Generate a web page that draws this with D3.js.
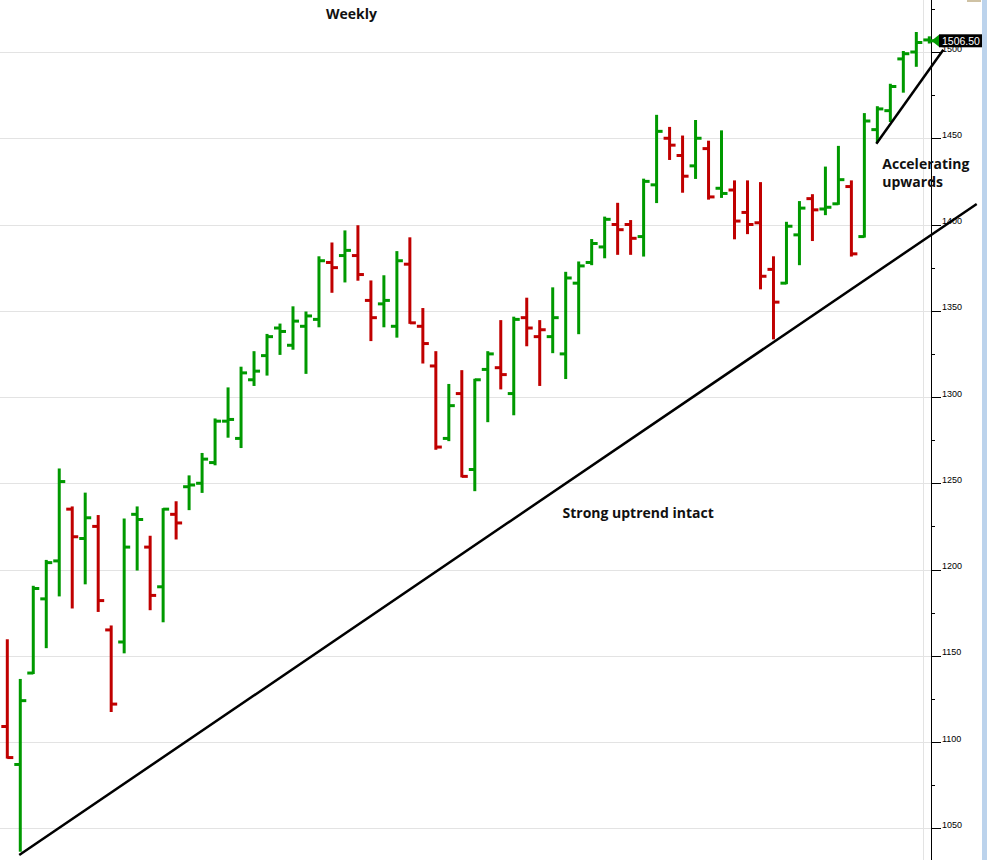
<!DOCTYPE html>
<meta charset="utf-8">
<style>
  body { margin: 0; background: #fff; }
  .note { font-family: 'Open Sans', 'Lato', sans-serif; font-weight: bold; font-size: 14px; fill: #111; }
  .axisLabel { font-family: 'Liberation Sans', Arial, sans-serif; font-size: 9px; fill: #000; }
</style>
<body>
<script src="https://d3js.org/d3.v7.min.js"></script>
<script>
  // weekly OHLC, oldest first
  const opens  = [1109,1087,1140,1183,1205,1235,1218,1225,1165,1158,1232,1213,1190,1232,1248,1250,1262,1286,1276,1310,
                  1324,1340,1330,1341,1345,1378,1382,1382,1356,1354,1341,1377,1341,1318,1276,1302,1258,1316,1317,1302,
                  1346,1335,1335,1325,1366,1378,1387,1400,1400,1393,1423,1450,1440,1434,1444,1421,1420,1407,1401,1374,
                  1366,1394,1415,1409,1412,1422,1393,1455,1466,1496,1500,1507];
  const highs  = [1159,1136,1190,1205,1258,1236,1244,1231,1167,1229,1236,1219,1235,1239,1254,1267,1287,1305,1317,1326,
                  1336,1342,1352,1349,1381,1389,1396,1399,1367,1370,1384,1392,1351,1326,1307,1315,1310,1326,1344,1346,
                  1357,1344,1363,1372,1378,1391,1404,1412,1402,1426,1463,1456,1451,1460,1448,1454,1425,1425,1424,1381,
                  1401,1413,1417,1433,1445,1425,1464,1468,1481,1500,1511,1508.5];
  const lows   = [1091,1037,1140,1155,1185,1178,1192,1176,1118,1152,1200,1177,1170,1218,1235,1245,1261,1277,1271,1307,
                  1313,1325,1328,1314,1341,1361,1367,1368,1333,1341,1335,1343,1320,1270,1275,1254,1246,1286,1305,1290,
                  1330,1307,1326,1311,1337,1377,1381,1383,1383,1382,1413,1438,1419,1427,1415,1416,1392,1395,1363,1334,
                  1366,1377,1391,1406,1412,1382,1393,1448,1460,1477,1492,1505.5];
  const closes = [1091,1124,1189,1204,1251,1219,1230,1182,1122,1213,1229,1185,1235,1227,1249,1264,1286,1287,1314,1315,
                  1335,1338,1344,1347,1379,1375,1385,1371,1346,1356,1379,1343,1331,1271,1295,1254,1310,1325,1313,1345,
                  1340,1339,1346,1369,1376,1389,1403,1397,1392,1425,1454,1446,1428,1450,1416,1418,1402,1400,1370,1355,
                  1399,1409.5,1408.5,1410,1426,1383,1460,1467,1480,1499,1505.5,1506.5];

  const priceTicks = [1050,1100,1150,1200,1250,1300,1350,1400,1450,1500];
  const minorTicks = [1075,1125,1175,1225,1275,1325,1375,1425,1475,1525];
  const lastPrice = 1506.50;

  // drawn trend lines, in [week index, price]
  const trendLines = [
    [[0.92, 1034.5], [74.65, 1411.9]],
    [[66.92, 1446.8], [72.08, 1501.3]]
  ];

  const notes = [
    {text: ["Weekly"], at: [26.5, 1519.2], anchor: "middle"},
    {text: ["Strong uptrend intact"], at: [48.58, 1230], anchor: "middle"},
    {text: ["Accelerating", "upwards"], at: [67.38, 1432.2], anchor: "start"}
  ];

  const width = 987, height = 860, axisX = 931.5;

  const svg = d3.select("body").append("svg")
      .attr("width", width)
      .attr("height", height);

  const x = d3.scaleLinear().domain([0, opens.length - 1]).range([7.3, 929.3]);
  const y = d3.scaleLinear().domain([1050, 1500]).range([828.3, 52]);

  const bars = opens.map((o, i) => ({
    i, o, h: highs[i], l: lows[i], c: closes[i],
    up: i === 0 ? closes[i] > o : closes[i] > closes[i - 1]
  }));

  // grid
  svg.append("g").selectAll("line")
    .data(priceTicks)
    .join("line")
      .attr("x1", 0).attr("x2", axisX)
      .attr("y1", d => Math.round(y(d)) + 0.5).attr("y2", d => Math.round(y(d)) + 0.5)
      .attr("stroke", "#e3e3e3");

  svg.append("line")
      .attr("x1", 923.5).attr("x2", 923.5)
      .attr("y1", 0).attr("y2", height)
      .attr("stroke", "#e3e3e3");

  // right edge strip
  svg.append("rect").attr("x", 982).attr("y", 0).attr("width", 5).attr("height", height).attr("fill", "#bcd3ec");
  svg.append("rect").attr("x", 967).attr("y", 0).attr("width", 14).attr("height", 2).attr("fill", "#cfc2a4");

  // price axis
  const axis = svg.append("g");
  axis.append("line")
      .attr("x1", axisX).attr("x2", axisX)
      .attr("y1", 0).attr("y2", height)
      .attr("stroke", "#000");
  axis.selectAll(".major")
    .data(priceTicks)
    .join("line")
      .attr("class", "major")
      .attr("x1", axisX).attr("x2", 941)
      .attr("y1", d => Math.round(y(d)) + 0.5).attr("y2", d => Math.round(y(d)) + 0.5)
      .attr("stroke", "#000");
  axis.selectAll(".minor")
    .data(minorTicks)
    .join("line")
      .attr("class", "minor")
      .attr("x1", axisX).attr("x2", 935)
      .attr("y1", d => Math.round(y(d)) + 0.5).attr("y2", d => Math.round(y(d)) + 0.5)
      .attr("stroke", "#000");
  axis.selectAll("text")
    .data(priceTicks)
    .join("text")
      .attr("class", "axisLabel")
      .attr("x", 942)
      .attr("y", d => y(d) - 0.5)
      .text(d => d);

  // OHLC bars
  const g = svg.append("g");
  const bar = g.selectAll("g")
    .data(bars)
    .join("g")
      .attr("stroke", d => d.up ? "#009900" : "#c00000")
      .attr("stroke-width", 3);
  bar.append("line")
      .attr("x1", d => x(d.i)).attr("x2", d => x(d.i))
      .attr("y1", d => y(d.h) - 1).attr("y2", d => y(d.l) + 1);
  bar.append("line")
      .attr("x1", d => x(d.i) - 6).attr("x2", d => x(d.i))
      .attr("y1", d => y(d.o)).attr("y2", d => y(d.o));
  bar.append("line")
      .attr("x1", d => x(d.i)).attr("x2", d => x(d.i) + 6)
      .attr("y1", d => y(d.c)).attr("y2", d => y(d.c));

  // trend lines
  svg.append("g").selectAll("line")
    .data(trendLines)
    .join("line")
      .attr("x1", d => x(d[0][0])).attr("y1", d => y(d[0][1]))
      .attr("x2", d => x(d[1][0])).attr("y2", d => y(d[1][1]))
      .attr("stroke", "#000")
      .attr("stroke-width", 2.5);

  // annotations
  svg.append("g").selectAll("text")
    .data(notes)
    .join("text")
      .attr("class", "note")
      .attr("text-anchor", d => d.anchor)
      .attr("transform", d => `translate(${x(d.at[0])},${y(d.at[1])})`)
    .selectAll("tspan")
    .data(d => d.text)
    .join("tspan")
      .attr("x", 0)
      .attr("dy", (d, i) => i === 0 ? 0 : 18)
      .text(d => d);

  // last price marker
  const py = y(lastPrice);
  const marker = svg.append("g");
  marker.append("path")
      .attr("d", `M${axisX},${py} L939,${py - 6} L939,${py + 6} Z`)
      .attr("fill", "#009900");
  marker.append("rect")
      .attr("x", 939).attr("y", py - 6.5)
      .attr("width", 43).attr("height", 13)
      .attr("fill", "#000");
  marker.append("text")
      .attr("x", 942).attr("y", py + 4)
      .attr("fill", "#fff")
      .style("font-family", "'Liberation Sans', Arial, sans-serif")
      .style("font-size", "10.5px")
      .text(lastPrice.toFixed(2));
</script>
</body>
